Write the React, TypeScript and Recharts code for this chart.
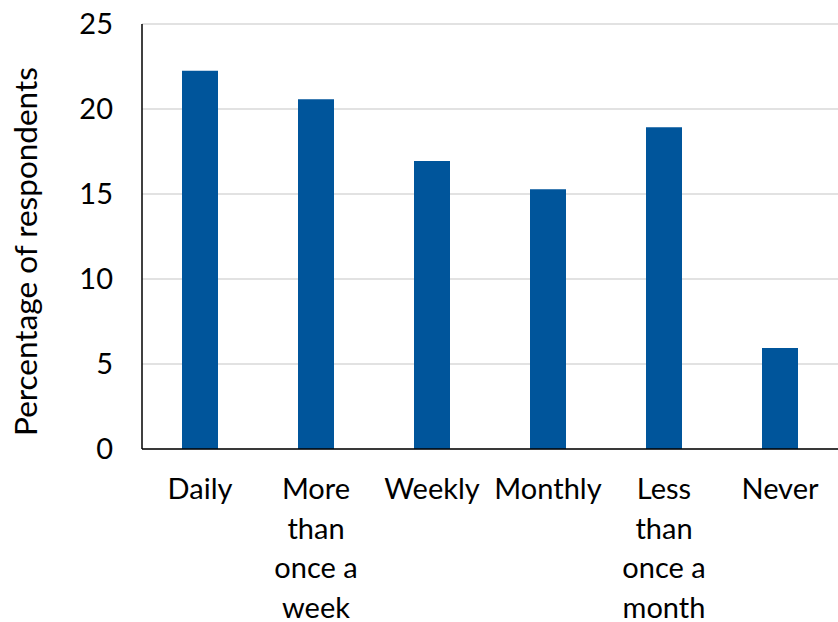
import React from "react";
import { BarChart, Bar, XAxis, YAxis, CartesianGrid } from "recharts";

const categories = ["Daily", "More than once a week", "Weekly", "Monthly", "Less than once a month", "Never"];
const values = [22.25, 20.57, 16.94, 15.28, 18.92, 5.94];
const tickLines = [["Daily"], ["More", "than", "once a", "week"], ["Weekly"], ["Monthly"], ["Less", "than", "once a", "month"], ["Never"]];
const yTicks = [0, 5, 10, 15, 20, 25];

const data = categories.map((c, i) => ({ name: c, value: values[i] }));

const FONT = "Lato, 'Open Sans', sans-serif";
const FS = 29;

const XTick = (props: any) => {
  const { x, y, index } = props;
  const lines = tickLines[index] || [];
  return (
    <text x={x} y={y} textAnchor="middle" fill="#000" fontFamily={FONT} fontSize={FS}>
      {lines.map((l: string, i: number) => (
        <tspan key={i} x={x} dy={i === 0 ? 42 : 39.5}>
          {l}
        </tspan>
      ))}
    </text>
  );
};

const YLabel = (props: any) => {
  const vb = props.viewBox || { x: 0, y: 0, width: 0, height: 0 };
  const cx = vb.x + 37;
  const cy = vb.y + vb.height / 2 + 15;
  return (
    <text x={cx} y={cy} textAnchor="middle" fill="#000" fontFamily={FONT} fontSize={31.5} transform={`rotate(-90, ${cx}, ${cy})`}>
      Percentage of respondents
    </text>
  );
};

export default function App() {
  return (
    <div style={{ position: "absolute", left: 0, top: 0, width: 838, height: 622, background: "#fff" }}>
      <BarChart width={838} height={622} data={data} margin={{ top: 24, right: 0, left: 0, bottom: 0 }} barCategoryGap="0%">
        <CartesianGrid vertical={false} stroke="#d9d9d9" strokeWidth={1.5} />
        <XAxis
          dataKey="name"
          interval={0}
          tick={<XTick />}
          tickLine={false}
          axisLine={{ stroke: "#000", strokeWidth: 1.5 }}
          height={173}
        />
        <YAxis
          domain={[0, 25]}
          ticks={yTicks}
          width={142}
          tickLine={false}
          tickMargin={23}
          axisLine={{ stroke: "#000", strokeWidth: 1.5 }}
          tick={{ fill: "#000", fontFamily: FONT, fontSize: FS }}
          label={<YLabel />}
        />
        <Bar dataKey="value" fill="#00559b" barSize={36} isAnimationActive={false} />
      </BarChart>
    </div>
  );
}
